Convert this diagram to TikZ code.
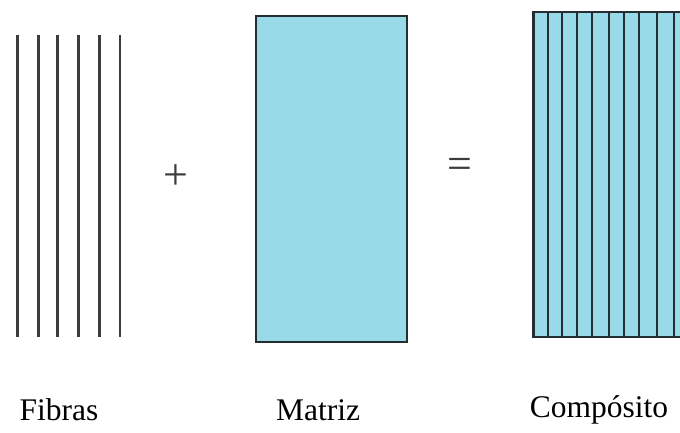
\documentclass[tikz,border=0pt]{standalone}
\usepackage{fontspec}
\setmainfont{Liberation Serif}
\definecolor{matblue}{RGB}{153,218,233}
\definecolor{fibgray}{RGB}{60,60,60}
\definecolor{edgedark}{RGB}{35,45,50}
\tikzset{
  fiber/.style={draw=fibgray,line width=2.8pt},
  cfiber/.style={draw=edgedark,line width=2.3pt},
  boxedge/.style={draw=edgedark,line width=2.4pt},
  lbl/.style={font=\fontsize{31.5}{34}\selectfont,text=black,inner sep=0pt},
  sym/.style={font=\fontsize{44}{46}\selectfont,text=fibgray,inner sep=0pt}
}
\begin{document}
\begin{tikzpicture}[x=1pt,y=1pt]
\useasboundingbox (0,0) rectangle (680,432);
\fill[white] (0,0) rectangle (680,432);
\clip (0,0) rectangle (680,432);
% fibers
\foreach \x in {17.7,38.7,57.3,78.3,99.3,120}
  \draw[fiber] (\x,432-35) -- (\x,432-337);
% plus
\node[sym] (plus) at (176,432-177) {+};
% matrix
\draw[boxedge,fill=matblue] (255.7,432-16) rectangle (406.7,432-342);
% equals
\node[sym] (eq) at (460,432-168) {=};
% composite
\fill[matblue] (533.3,432-12) rectangle (690,432-336.7);
\foreach \x in {548.3,562.3,576.7,591.7,609.3,624,639,656.7,674}
  \draw[cfiber] (\x,432-12) -- (\x,432-336.7);
\draw[boxedge] (690,432-12) -- (533.3,432-12) -- (533.3,432-336.7) -- (690,432-336.7);
% labels
\node[lbl] (fib) at (59,432-410) {Fibras};
\node[lbl] (mat) at (318,432-410) {Matriz};
\node[lbl] (comp) at (599,432-410) {Compósito};
\end{tikzpicture}
\end{document}
